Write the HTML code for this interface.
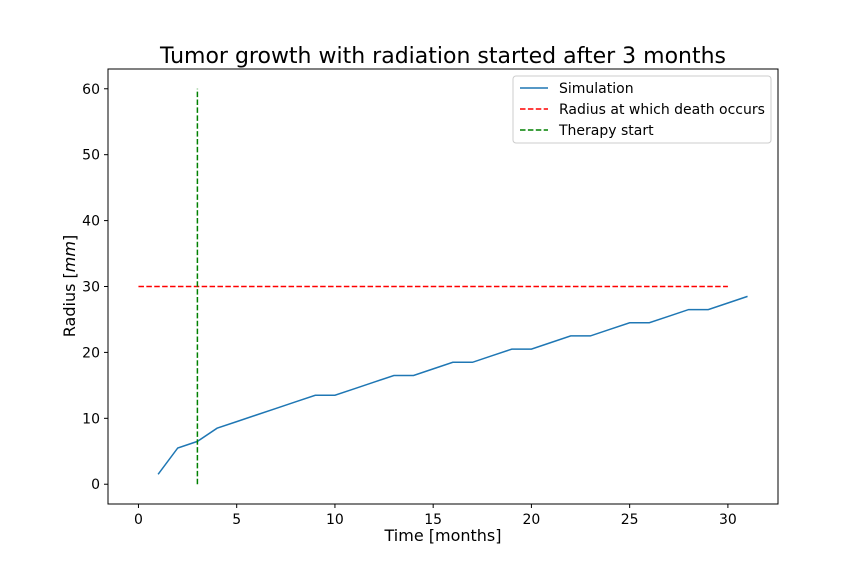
<!DOCTYPE html>
<html><head><meta charset="utf-8"><style>
body{margin:0;background:#fff;}
text{font-family:"DejaVu Sans","Liberation Sans",sans-serif;fill:#000;}
</style></head><body>
<svg id="chart" width="864" height="576">
<rect width="864" height="576" fill="#fff"/>
<text x="443" y="63" font-size="22" text-anchor="middle">Tumor growth with radiation started after 3 months</text>
<g id="plot"></g>
<text x="443" y="541" font-size="16" text-anchor="middle">Time [months]</text>
<text transform="translate(75,286) rotate(-90)" font-size="16" text-anchor="middle">Radius [<tspan font-style="italic">mm</tspan>]</text>
<g>
<rect x="513" y="76" width="258" height="67" fill="#fff" stroke="#ccc" rx="3"/>
<line x1="520" y1="88" x2="548" y2="88" stroke="#1f77b4" stroke-width="1.5"/>
<text x="559" y="93" font-size="14">Simulation</text>
<line x1="520" y1="109" x2="548" y2="109" stroke="red" stroke-width="1.5" stroke-dasharray="5.5,2.4"/>
<text x="559" y="114" font-size="14">Radius at which death occurs</text>
<line x1="520" y1="130" x2="548" y2="130" stroke="green" stroke-width="1.5" stroke-dasharray="5.5,2.4"/>
<text x="559" y="135" font-size="14">Therapy start</text>
</g>
</svg>
<script>
const months=[1,2,3,4,5,6,7,8,9,10,11,12,13,14,15,16,17,18,19,20,21,22,23,24,25,26,27,28,29,30,31];
const radius=[1.5,5.5,6.5,8.5,9.5,10.5,11.5,12.5,13.5,13.5,14.5,15.5,16.5,16.5,17.5,18.5,18.5,19.5,20.5,20.5,21.5,22.5,22.5,23.5,24.5,24.5,25.5,26.5,26.5,27.5,28.5];
const deathRadius=30;
const deathRange=[0,30];
const therapyMonth=3;
const therapyRange=[0,60];
const xTicks=[0,5,10,15,20,25,30];
const yTicks=[0,10,20,30,40,50,60];
const X0=108,X1=778,Y0=504,Y1=69,xmin=-1.55,xmax=32.55,ymin=-3,ymax=63;
const sx=v=>X0+(v-xmin)/(xmax-xmin)*(X1-X0);
const sy=v=>Y0-(v-ymin)/(ymax-ymin)*(Y0-Y1);
const ns="http://www.w3.org/2000/svg";
const g=document.getElementById('plot');
function mk(t,a){const e=document.createElementNS(ns,t);for(const k in a)e.setAttribute(k,a[k]);g.appendChild(e);return e;}
xTicks.forEach(t=>{
 const l=mk('line',{x1:sx(t),x2:sx(t),y1:Y0,y2:Y0+4,stroke:'#000'});
 
 
 const tx=mk('text',{x:sx(t),y:Y0+20,'font-size':14,'text-anchor':'middle'});tx.textContent=t;
 
 
});
yTicks.forEach(t=>{
 const l=mk('line',{x1:X0-4,x2:X0,y1:sy(t),y2:sy(t),stroke:'#000'});
 
 
 const tx=mk('text',{x:X0-8,y:sy(t)+5,'font-size':14,'text-anchor':'end'});tx.textContent=t;
 
 
});
const sim=mk('polyline',{points:months.map((m,i)=>sx(m)+','+sy(radius[i])).join(' '),fill:'none',stroke:'#1f77b4','stroke-width':1.5});


const dl=mk('line',{x1:sx(deathRange[0]),x2:sx(deathRange[1]),y1:sy(deathRadius),y2:sy(deathRadius),stroke:'red','stroke-width':1.5,'stroke-dasharray':'5.5,2.4'});


const tl=mk('line',{x1:sx(therapyMonth),x2:sx(therapyMonth),y1:sy(therapyRange[0]),y2:sy(therapyRange[1]),stroke:'green','stroke-width':1.5,'stroke-dasharray':'5.5,2.4'});


const fr=mk('rect',{x:X0,y:Y1,width:X1-X0,height:Y0-Y1,fill:'none',stroke:'#000','stroke-width':1});


</script>
</body></html>
